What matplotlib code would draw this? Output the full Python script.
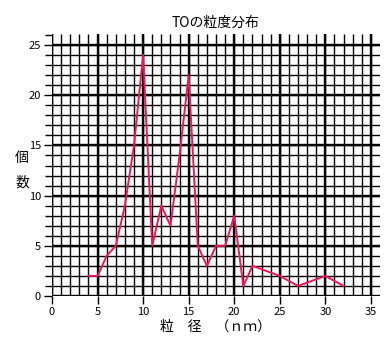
import matplotlib
matplotlib.use("Agg")
import matplotlib.pyplot as plt
from matplotlib.ticker import MultipleLocator

plt.rcParams['font.family'] = ['Noto Sans CJK JP', 'DejaVu Sans']

# particle size (nm) and count
size = [4, 5, 6, 7, 8, 9, 10, 11, 12, 13, 14, 15, 16, 17, 18, 19, 20, 21, 22, 25, 27, 30, 32]
count = [2, 2, 4, 5, 9, 15, 24, 5, 9, 7, 14, 22, 5, 3, 5, 5, 8, 1, 3, 2, 1, 2, 1]

title = 'TOの粒度分布'
xlabel = '粒　径　（ｎｍ）'
ylabel = '個\n数'

fig = plt.figure(figsize=(3.89, 3.39), dpi=100)
ax = fig.add_axes([52/389, 1 - 296/339, 328/389, 262/339])

# dense graph-paper grid
ax.hlines(range(0, 26), 0, 36, colors='black', linewidth=1.0, zorder=1)
ax.hlines(range(0, 26, 5), 0, 36, colors='black', linewidth=1.7, zorder=1)
ax.vlines(range(0, 36), 0, 26.1, colors='black', linewidth=1.0, zorder=1)
ax.vlines(range(0, 36, 5), 0, 26.1, colors='black', linewidth=1.7, zorder=1)

ax.plot(size, count, color='#f01460', linewidth=1.4, zorder=3)

ax.set_xlim(0, 36)
ax.set_ylim(0, 26.1)
for s in ax.spines.values():
    s.set_visible(False)

ax.xaxis.set_major_locator(MultipleLocator(5))
ax.yaxis.set_major_locator(MultipleLocator(5))
ax.yaxis.set_minor_locator(MultipleLocator(1))
ax.tick_params(axis='both', which='major', length=6, width=1, labelsize=8, pad=2)
ax.tick_params(axis='y', which='minor', length=5, width=1)

ax.set_title(title, fontsize=10, pad=5)
ax.set_xlabel(xlabel, fontsize=10, labelpad=2)
fig.text(22/389, 1 - 170/339, ylabel, fontsize=10, ha='center', va='center', linespacing=2.0)

fig.savefig('out.png', dpi=100)
